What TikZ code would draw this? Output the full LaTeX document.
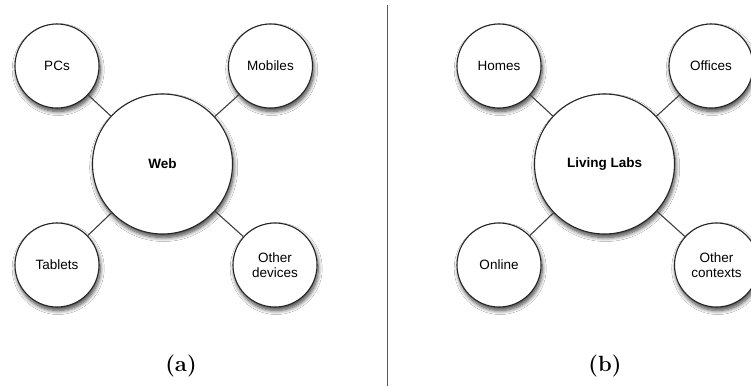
\documentclass[tikz,border=0pt]{standalone}
\usepackage{fontspec}
\newfontfamily\labelfont{Liberation Sans}
\usetikzlibrary{shadows.blur}
\begin{document}
\begin{tikzpicture}[x=1pt,y=-1pt,
  bubble/.style={circle,draw=black!85,line width=1.1pt,fill=white,
    inner sep=0pt,align=center,font=\labelfont\fontsize{13.5}{15}\selectfont,
    blur shadow={shadow xshift=1.2pt,shadow yshift=-3.5pt,shadow blur steps=8,
      shadow blur radius=4pt,shadow opacity=75}},
  leaf/.style={bubble,minimum size=84pt},
  hub/.style={bubble,minimum size=140pt,font=\labelfont\bfseries\fontsize{13.5}{15}\selectfont},
  link/.style={draw=black!75,line width=1.1pt},
  caption/.style={font=\bfseries\fontsize{22}{24}\selectfont}]
\clip (0,0) rectangle (751,386);
\fill[white] (0,0) rectangle (751,386);

% left: the web and its devices
\node[hub]  (web)   at (162.5,164) {Web};
\node[leaf] (pcs)   at (57,66)     {PCs};
\node[leaf] (mob)   at (270.5,66)  {Mobiles};
\node[leaf] (tab)   at (57,265)    {Tablets};
\node[leaf] (odev)  at (275,265)   {Other\\devices};
\draw[link] (web) -- (pcs);
\draw[link] (web) -- (mob);
\draw[link] (web) -- (tab);
\draw[link] (web) -- (odev);
\node[caption] (capa) at (181,366) {(a)};

% divider
\coordinate (dtop) at (387.5,5);
\coordinate (dbot) at (387.5,386);
\draw[black!65,line width=1.2pt] (dtop) -- (dbot);

% right: living labs and their contexts
\node[hub]  (ll)    at (604.5,164) {Living Labs};
\node[leaf] (home)  at (499,66)    {Homes};
\node[leaf] (off)   at (711,66)    {Offices};
\node[leaf] (onl)   at (499,265)   {Online};
\node[leaf] (octx)  at (716.5,265) {Other\\contexts};
\draw[link] (ll) -- (home);
\draw[link] (ll) -- (off);
\draw[link] (ll) -- (onl);
\draw[link] (ll) -- (octx);
\node[caption] (capb) at (605,366) {(b)};
\end{tikzpicture}
\end{document}
